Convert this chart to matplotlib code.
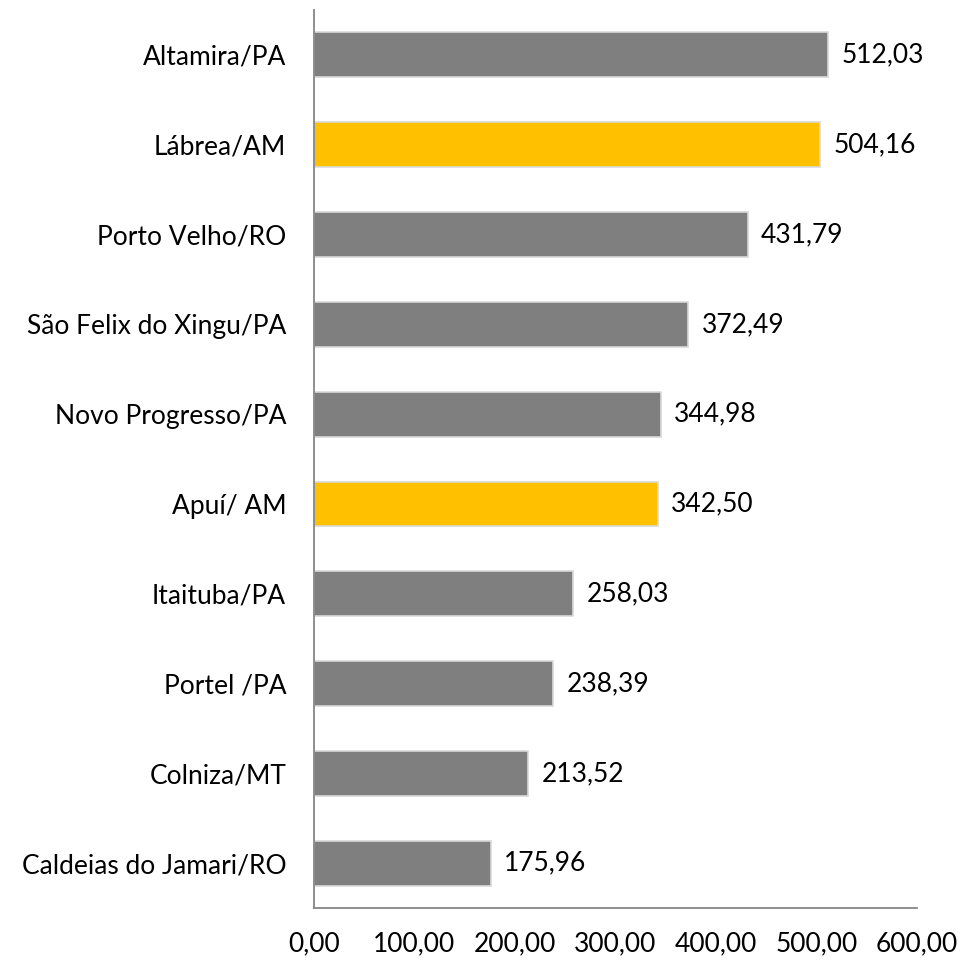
import matplotlib
matplotlib.use("Agg")
import matplotlib.pyplot as plt

# data, top to bottom as in the chart
cities = ['Altamira/PA', 'Lábrea/AM', 'Porto Velho/RO', 'São Felix do Xingu/PA',
          'Novo Progresso/PA', 'Apuí/ AM', 'Itaituba/PA', 'Portel /PA',
          'Colniza/MT', 'Caldeias do Jamari/RO']
values = [512.03, 504.16, 431.79, 372.49, 344.98, 342.50, 258.03, 238.39, 213.52, 175.96]
highlight = ['Lábrea/AM', 'Apuí/ AM']
xticks = [0, 100, 200, 300, 400, 500, 600]

plt.rcParams['font.family'] = ['Lato', 'DejaVu Sans']

gray = '#7F7F7F'
yellow = '#FFC000'
axis_col = '#868686'
fs = 19

fig = plt.figure(figsize=(9.6, 9.6), dpi=100)
ax = fig.add_axes([0.327, 0.054, 0.628, 0.9356])

colors = [yellow if c in highlight else gray for c in cities]
pos = list(range(len(cities)))
bars = ax.barh(pos, values, height=0.5, color=colors, edgecolor='#D9D9D9', linewidth=1.2)
ax.set_ylim(len(cities) - 0.5, -0.5)
ax.set_xlim(0, 600)
ax.set_yticks(pos)
ax.set_yticklabels(cities, fontsize=fs)
ax.tick_params(axis='y', length=0, pad=20)

labels = [f'{v:.2f}'.replace('.', ',') for v in values]
ax.bar_label(bars, labels=labels, padding=9.5, fontsize=fs)

ax.set_xticks(xticks)
ax.set_xticklabels([f'{t:.2f}'.replace('.', ',') for t in xticks], fontsize=fs)
ax.tick_params(axis='x', length=0, pad=17)

for s in ['top', 'right']:
    ax.spines[s].set_visible(False)
for s in ['left', 'bottom']:
    ax.spines[s].set_color(axis_col)
    ax.spines[s].set_linewidth(1.3)

fig.savefig('out.png', dpi=100)
